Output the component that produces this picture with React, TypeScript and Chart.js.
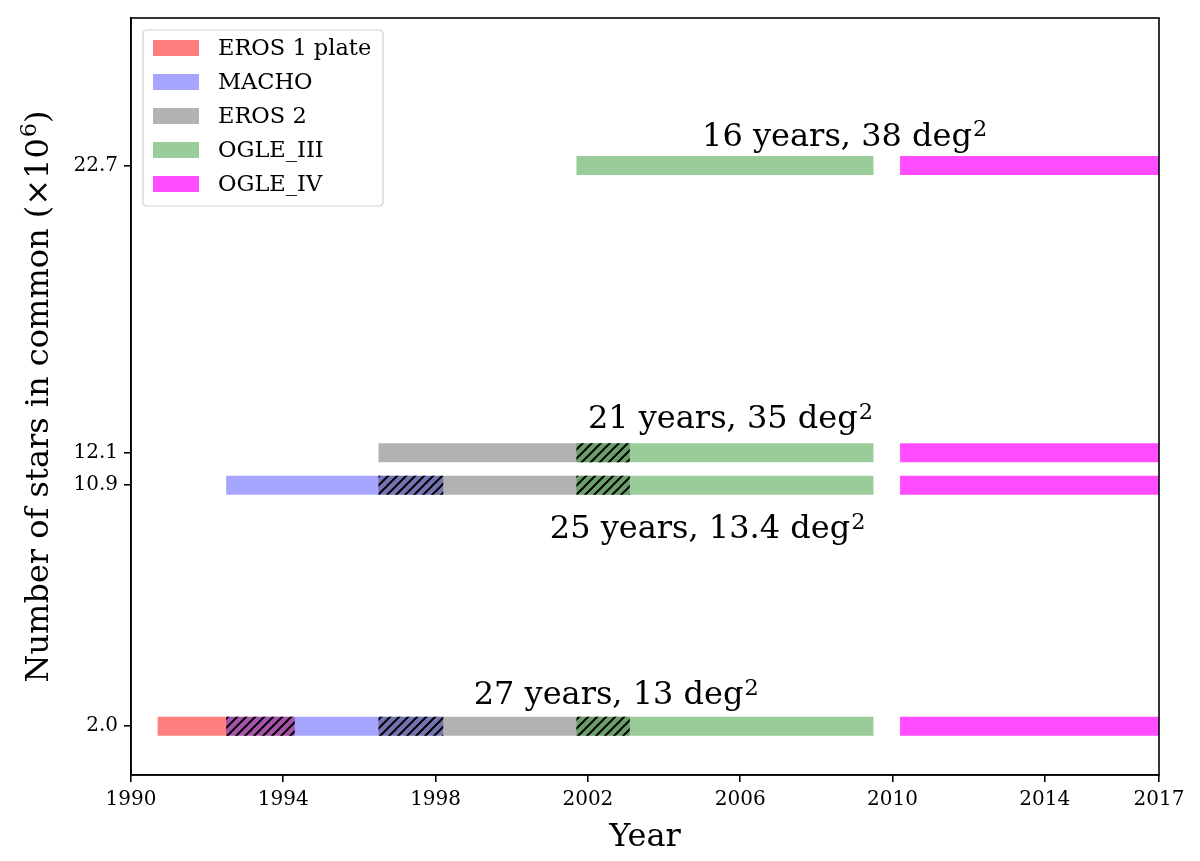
import React, { useEffect, useRef } from "react";
import { Chart, registerables } from "chart.js";

Chart.register(...registerables);

const FAMILY = "'DejaVu Serif', serif";

// ---- data ----
const xTickValues = [1990, 1994, 1998, 2002, 2006, 2010, 2014, 2017];
const yTickValues = [2.0, 10.9, 12.1, 22.7];

const surveyNames = ["EROS 1 plate", "MACHO", "EROS 2", "OGLE_III", "OGLE_IV"];
const surveyColors = [
  "rgba(255,0,0,0.5)",
  "rgba(0,0,255,0.35)",
  "rgba(0,0,0,0.3)",
  "rgba(0,128,0,0.4)",
  "rgba(255,0,255,0.7)",
];

// [row value, start year, end year]
const eros1Spans = [[2.0, 1990.7, 1994.3]];
const machoSpans = [
  [2.0, 1992.5, 1998.2],
  [10.9, 1992.5, 1998.2],
];
const eros2Spans = [
  [2.0, 1996.5, 2003.1],
  [10.9, 1996.5, 2003.1],
  [12.1, 1996.5, 2003.1],
];
const ogle3Spans = [
  [2.0, 2001.7, 2009.5],
  [10.9, 2001.7, 2009.5],
  [12.1, 2001.7, 2009.5],
  [22.7, 2001.7, 2009.5],
];
const ogle4Spans = [
  [2.0, 2010.2, 2017.5],
  [10.9, 2010.2, 2017.5],
  [12.1, 2010.2, 2017.5],
  [22.7, 2010.2, 2017.5],
];
const overlapSpans = [
  [2.0, 1992.5, 1994.3],
  [2.0, 1996.5, 1998.2],
  [10.9, 1996.5, 1998.2],
  [2.0, 2001.7, 2003.1],
  [10.9, 2001.7, 2003.1],
  [12.1, 2001.7, 2003.1],
];

const annotationTexts = ["16 years, 38 deg", "21 years, 35 deg", "25 years, 13.4 deg", "27 years, 13 deg"];
const annotationSup = ["2", "2", "2", "2"];
const annotationX = [2005.0, 2002.0, 2001.0, 1999.0];
const annotationY = [23.44, 13.0, 8.94, 2.81];

// ---- helpers ----
function spansToPoints(spans: number[][]) {
  const pts: { x: number; y: number | null }[] = [];
  spans.forEach((s, i) => {
    if (i > 0) pts.push({ x: s[1], y: null });
    pts.push({ x: s[1], y: s[0] });
    pts.push({ x: s[2], y: s[0] });
  });
  return pts;
}

function makeHatch(): CanvasPattern | string {
  const s = 9;
  const c = document.createElement("canvas");
  c.width = s;
  c.height = s;
  const g = c.getContext("2d");
  if (!g) return "#000";
  g.strokeStyle = "#000";
  g.lineWidth = 2;
  g.lineCap = "square";
  g.beginPath();
  g.moveTo(-1, s + 1);
  g.lineTo(s + 1, -1);
  g.moveTo(-1, 1);
  g.lineTo(1, -1);
  g.moveTo(s - 1, s + 1);
  g.lineTo(s + 1, s - 1);
  g.stroke();
  const p = g.createPattern(c, "repeat");
  return p || "#000";
}

const SUP_SCALE = 0.7;
const SUP_RAISE = 0.3;

function drawSupText(
  ctx: CanvasRenderingContext2D,
  main: string,
  sup: string,
  x: number,
  y: number,
  size: number
) {
  ctx.save();
  ctx.fillStyle = "#000";
  ctx.textBaseline = "alphabetic";
  ctx.textAlign = "left";
  ctx.font = `${size}px ${FAMILY}`;
  const w1 = ctx.measureText(main).width;
  ctx.fillText(main, x, y);
  ctx.font = `${size * SUP_SCALE}px ${FAMILY}`;
  ctx.fillText(sup, x + w1 + 1, y - size * SUP_RAISE);
  ctx.restore();
}

const BAR_WIDTH = 19;

export default function App() {
  const ref = useRef<HTMLCanvasElement>(null);

  useEffect(() => {
    const canvas = ref.current;
    if (!canvas) return;
    const hatch = makeHatch();
    const spansList = [eros1Spans, machoSpans, eros2Spans, ogle3Spans, ogle4Spans];
    const datasets: any[] = spansList.map((spans, i) => ({
      label: surveyNames[i],
      data: spansToPoints(spans),
      borderColor: surveyColors[i],
      backgroundColor: surveyColors[i],
      borderWidth: BAR_WIDTH,
      borderCapStyle: "butt",
      pointRadius: 0,
      pointHoverRadius: 0,
      tension: 0,
      fill: false,
      spanGaps: false,
      order: 10 - i,
    }));
    datasets.push({
      label: "overlap",
      data: spansToPoints(overlapSpans),
      borderColor: hatch,
      backgroundColor: "transparent",
      borderWidth: BAR_WIDTH,
      borderCapStyle: "butt",
      pointRadius: 0,
      pointHoverRadius: 0,
      tension: 0,
      fill: false,
      spanGaps: false,
      order: 0,
    });

    const framePlugin = {
      id: "frame",
      afterDraw(chart: any) {
        const { ctx, chartArea } = chart;
        ctx.save();
        ctx.strokeStyle = "#000";
        ctx.lineWidth = 1.6;
        ctx.strokeRect(chartArea.left, chartArea.top, chartArea.right - chartArea.left, chartArea.bottom - chartArea.top);
        ctx.restore();
      },
    };

    const annotationPlugin = {
      id: "annotations",
      afterDatasetsDraw(chart: any) {
        const { ctx } = chart;
        const xs = chart.scales.x;
        const ys = chart.scales.y;
        annotationTexts.forEach((t, i) => {
          drawSupText(ctx, t, annotationSup[i], xs.getPixelForValue(annotationX[i]), ys.getPixelForValue(annotationY[i]), 32);
        });
      },
    };

    const yTitlePlugin = {
      id: "ytitle",
      afterDraw(chart: any) {
        const { ctx, chartArea } = chart;
        ctx.save();
        ctx.translate(40, (chartArea.top + chartArea.bottom) / 2);
        ctx.rotate(-Math.PI / 2);
        ctx.textBaseline = "middle";
        ctx.fillStyle = "#000";
        const size = 32;
        const main = "Number of stars in common (×10";
        const sup = "6";
        const tail = ")";
        ctx.font = `${size}px ${FAMILY}`;
        const w1 = ctx.measureText(main).width;
        const w3 = ctx.measureText(tail).width;
        ctx.font = `${size * SUP_SCALE}px ${FAMILY}`;
        const w2 = ctx.measureText(sup).width;
        const total = w1 + w2 + w3 + 1;
        const x0 = -total / 2;
        ctx.textAlign = "left";
        ctx.font = `${size}px ${FAMILY}`;
        ctx.fillText(main, x0, 0);
        ctx.font = `${size * SUP_SCALE}px ${FAMILY}`;
        ctx.fillText(sup, x0 + w1 + 1, -size * SUP_RAISE);
        ctx.font = `${size}px ${FAMILY}`;
        ctx.fillText(tail, x0 + w1 + w2 + 1, 0);
        ctx.restore();
      },
    };

    const legendPlugin = {
      id: "customLegend",
      afterDraw(chart: any) {
        const { ctx, chartArea } = chart;
        const bx = chartArea.left + 12;
        const by = chartArea.top + 12;
        const bw = 240;
        const bh = 176;
        ctx.save();
        ctx.beginPath();
        const r = 4;
        ctx.moveTo(bx + r, by);
        ctx.lineTo(bx + bw - r, by);
        ctx.quadraticCurveTo(bx + bw, by, bx + bw, by + r);
        ctx.lineTo(bx + bw, by + bh - r);
        ctx.quadraticCurveTo(bx + bw, by + bh, bx + bw - r, by + bh);
        ctx.lineTo(bx + r, by + bh);
        ctx.quadraticCurveTo(bx, by + bh, bx, by + bh - r);
        ctx.lineTo(bx, by + r);
        ctx.quadraticCurveTo(bx, by, bx + r, by);
        ctx.closePath();
        ctx.fillStyle = "rgba(255,255,255,0.8)";
        ctx.fill();
        ctx.strokeStyle = "#d0d0d0";
        ctx.lineWidth = 1.2;
        ctx.stroke();
        ctx.font = `22.5px ${FAMILY}`;
        ctx.textBaseline = "middle";
        ctx.textAlign = "left";
        surveyNames.forEach((name, i) => {
          const cy = by + 18 + i * 34;
          ctx.fillStyle = surveyColors[i];
          ctx.fillRect(bx + 10, cy - 8, 46, 16);
          ctx.fillStyle = "#000";
          ctx.fillText(name, bx + 75, cy + 1);
        });
        ctx.restore();
      },
    };

    const axisCommon = {
      grid: {
        display: true,
        drawOnChartArea: false,
        drawTicks: true,
        tickLength: 7,
        color: "#000",
        lineWidth: 1.6,
      },
      border: { display: true, color: "#000", width: 1.6 },
    };

    const chart = new Chart(canvas, {
      type: "line",
      data: { datasets },
      options: {
        animation: false,
        responsive: false,
        events: [],
        layout: { padding: { top: 15, right: 41, left: 0, bottom: 0 } },
        plugins: {
          legend: { display: false },
          tooltip: { enabled: false },
        },
        scales: {
          x: {
            type: "linear",
            min: 1990,
            max: 2017,
            afterBuildTicks: (s: any) => {
              s.ticks = xTickValues.map((v) => ({ value: v }));
            },
            afterFit: (s: any) => {
              s.height = 86;
            },
            ticks: {
              font: { family: FAMILY, size: 20 },
              color: "#000",
              padding: 6,
              maxRotation: 0,
              autoSkip: false,
              callback: (v: any) => String(v),
            },
            title: {
              display: true,
              text: "Year",
              font: { family: FAMILY, size: 32 },
              color: "#000",
              padding: { top: 0, bottom: 4 },
            },
            ...axisCommon,
          },
          y: {
            type: "linear",
            min: 0.2,
            max: 28.15,
            afterBuildTicks: (s: any) => {
              s.ticks = yTickValues.map((v) => ({ value: v }));
            },
            afterFit: (s: any) => {
              s.width = 131;
            },
            ticks: {
              font: { family: FAMILY, size: 20 },
              color: "#000",
              padding: 6,
              autoSkip: false,
              callback: (v: any) => Number(v).toFixed(1),
            },
            ...axisCommon,
          },
        },
      } as any,
      plugins: [annotationPlugin, framePlugin, legendPlugin, yTitlePlugin],
    });
    return () => chart.destroy();
  }, []);

  return (
    <canvas
      ref={ref}
      width={1200}
      height={861}
      style={{ position: "absolute", left: 0, top: 0, width: 1200, height: 861 }}
    />
  );
}
